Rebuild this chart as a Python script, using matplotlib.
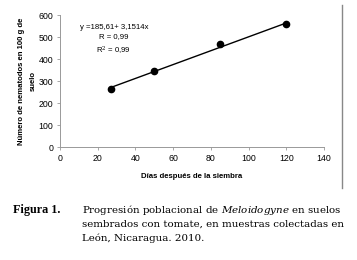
import matplotlib
matplotlib.use("Agg")
import matplotlib.pyplot as plt
from matplotlib.lines import Line2D
import numpy as np

plt.rcParams['mathtext.fontset'] = 'custom'
plt.rcParams['mathtext.rm'] = 'DejaVu Serif'
plt.rcParams['mathtext.it'] = 'DejaVu Serif:italic'

dias = [27, 50, 85, 120]
nematodos = [265, 345, 470, 557]
intercepto = 185.61
pendiente = 3.1514
x_ticks = [0, 20, 40, 60, 80, 100, 120, 140]
y_ticks = [0, 100, 200, 300, 400, 500, 600]

sans = 'Liberation Sans'
serif = 'DejaVu Serif'

fig = plt.figure(figsize=(3.57, 2.60), dpi=100)
ax = fig.add_axes([0.168, 0.4346, 0.7396, 0.5077])

xr = np.array([dias[0], dias[-1]])
ax.plot(xr, intercepto + pendiente * xr, color='black', lw=1.0, zorder=2)
ax.plot(dias, nematodos, 'o', color='black', ms=4.5, zorder=3)

ax.set_xlim(0, 140)
ax.set_ylim(0, 600)
ax.set_xticks(x_ticks)
ax.set_yticks(y_ticks)
ax.tick_params(labelsize=6.3, length=2, width=0.6, color='#999999', pad=3)
for lab in ax.get_xticklabels() + ax.get_yticklabels():
    lab.set_family(sans)
for s in ['top', 'right']:
    ax.spines[s].set_visible(False)
for s in ['left', 'bottom']:
    ax.spines[s].set_color('#999999')
    ax.spines[s].set_linewidth(0.7)

ax.set_xlabel('Días después de la siembra', fontsize=5.6, fontweight='bold', labelpad=7.5, family=sans)
ax.set_ylabel('Número de nematodos en 100 g de\nsuelo', fontsize=5.6, fontweight='bold',
              labelpad=1, linespacing=1.9, family=sans)

ax.text(28.6, 486, 'y =185,61+ 3,1514x\nR = 0,99\nR$^2$ = 0,99', fontsize=5.6,
        ha='center', va='center', multialignment='center', linespacing=1.5, family=sans)

fig.add_artist(Line2D([342/357, 342/357], [1-5/260, 1-188/260], color='#888888', lw=1.0))

fig.text(13/357, 1-210/260, 'Figura 1.', family='Liberation Serif', fontweight='bold',
         fontsize=8.7, va='center', ha='left')
cap_x = 82/357
fig.text(cap_x, 1-210/260, 'Progresión poblacional de $\\mathit{Meloidogyne}$ en suelos',
         family=serif, fontsize=7.4, va='center', ha='left')
fig.text(cap_x, 1-224/260, 'sembrados con tomate, en muestras colectadas en',
         family=serif, fontsize=7.4, va='center', ha='left')
fig.text(cap_x, 1-238/260, 'León, Nicaragua. 2010.',
         family=serif, fontsize=7.4, va='center', ha='left')

fig.savefig('out.png', dpi=100)
